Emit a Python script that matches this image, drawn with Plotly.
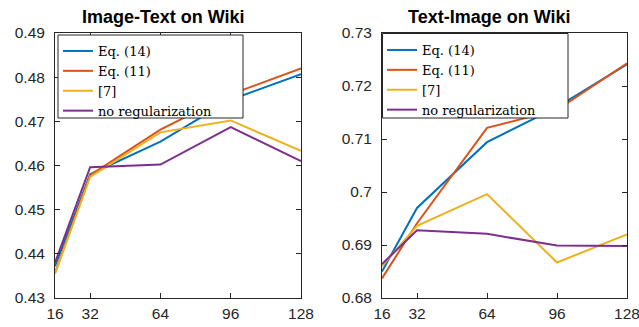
import plotly.graph_objects as go

x_vals = [16, 32, 64, 96, 128]
series_names = ["Eq. (14)", "Eq. (11)", "[7]", "no regularization"]
colors = ["#0072BD", "#D95319", "#EDB120", "#7E2F8E"]

# Image-Text on Wiki
it_eq14 = [0.4372, 0.4580, 0.4654, 0.4749, 0.4807]
it_eq11 = [0.4357, 0.4578, 0.4681, 0.4761, 0.4820]
it_ref7 = [0.4355, 0.4574, 0.4675, 0.4702, 0.4633]
it_noreg = [0.4380, 0.4596, 0.4602, 0.4687, 0.4610]

# Text-Image on Wiki
ti_eq14 = [0.6850, 0.6970, 0.7094, 0.7160, 0.7241]
ti_eq11 = [0.6837, 0.6941, 0.7121, 0.7155, 0.7243]
ti_ref7 = [0.6860, 0.6936, 0.6996, 0.6867, 0.6920]
ti_noreg = [0.6864, 0.6928, 0.6921, 0.6899, 0.6898]

left_ticks = [0.43, 0.44, 0.45, 0.46, 0.47, 0.48, 0.49]
left_ticktext = ["0.43", "0.44", "0.45", "0.46", "0.47", "0.48", "0.49"]
right_ticks = [0.68, 0.69, 0.70, 0.71, 0.72, 0.73]
right_ticktext = ["0.68", "0.69", "0.7", "0.71", "0.72", "0.73"]

fig = go.Figure()

for name, ys, c in zip(series_names, [it_eq14, it_eq11, it_ref7, it_noreg], colors):
    fig.add_trace(go.Scatter(x=x_vals, y=ys, mode="lines", name=name,
                             line=dict(color=c, width=2), xaxis="x", yaxis="y",
                             legend="legend"))
for name, ys, c in zip(series_names, [ti_eq14, ti_eq11, ti_ref7, ti_noreg], colors):
    fig.add_trace(go.Scatter(x=x_vals, y=ys, mode="lines", name=name,
                             line=dict(color=c, width=2), xaxis="x2", yaxis="y2",
                             legend="legend2"))

W, H = 639, 327
ml, mr, mt, mb = 55, 12, 33, 29
pw = W - ml - mr
ph = H - mt - mb


def px2x(px):
    return (px - ml) / pw


def px2y(py):
    return 1 - (py - mt) / ph


d1 = [0, px2x(301)]
d2 = [px2x(382), 1]

axcol = "#262626"
tickfont = dict(family="Liberation Sans, Arial, sans-serif", size=15.5, color=axcol)
common = dict(showline=True, linecolor=axcol, linewidth=1, mirror="ticks",
              ticks="inside", ticklen=5, tickcolor=axcol, showgrid=False,
              zeroline=False, tickfont=tickfont, automargin=False,
              ticklabeloverflow="allow")

legfont = dict(family="DejaVu Serif, serif", size=13, color="black")

shapes = [
    dict(type="rect", xref="paper", yref="paper", x0=px2x(58), x1=px2x(243),
         y0=px2y(118), y1=px2y(35), fillcolor="white",
         line=dict(color=axcol, width=1), layer="above"),
    dict(type="rect", xref="paper", yref="paper", x0=px2x(382.5), x1=px2x(568),
         y0=px2y(118), y1=px2y(33.5), fillcolor="white",
         line=dict(color=axcol, width=1), layer="above"),
]

title_font = dict(family="Liberation Sans, Arial, sans-serif", size=18, color="black")

fig.update_layout(
    width=W, height=H,
    margin=dict(l=ml, r=mr, t=mt, b=mb),
    plot_bgcolor="white", paper_bgcolor="white",
    xaxis=dict(domain=d1, range=[16, 128], tickvals=x_vals, anchor="y",
               ticklabelstandoff=1, **common),
    yaxis=dict(domain=[0, 1], range=[0.43, 0.49], tickvals=left_ticks,
               ticktext=left_ticktext, anchor="x", ticklabelstandoff=6, **common),
    xaxis2=dict(domain=d2, range=[16, 128], tickvals=x_vals, anchor="y2",
                ticklabelstandoff=1, **common),
    yaxis2=dict(domain=[0, 1], range=[0.68, 0.73], tickvals=right_ticks,
                ticktext=right_ticktext, anchor="x2", ticklabelstandoff=6, **common),
    legend=dict(x=px2x(58), y=px2y(36), xanchor="left", yanchor="top",
                bgcolor="rgba(0,0,0,0)", borderwidth=0, font=legfont,
                tracegroupgap=0),
    legend2=dict(x=px2x(382), y=px2y(35), xanchor="left", yanchor="top",
                 bgcolor="rgba(0,0,0,0)", borderwidth=0, font=legfont,
                 tracegroupgap=0),
    shapes=shapes,
    annotations=[
        dict(text="<b>Image-Text on Wiki</b>", x=px2x(163), y=px2y(17), xref="paper",
             yref="paper", yanchor="middle", xanchor="center", showarrow=False,
             font=title_font),
        dict(text="<b>Text-Image on Wiki</b>", x=px2x(489), y=px2y(17), xref="paper",
             yref="paper", yanchor="middle", xanchor="center", showarrow=False,
             font=title_font),
    ],
)

fig.write_html("out.html")
